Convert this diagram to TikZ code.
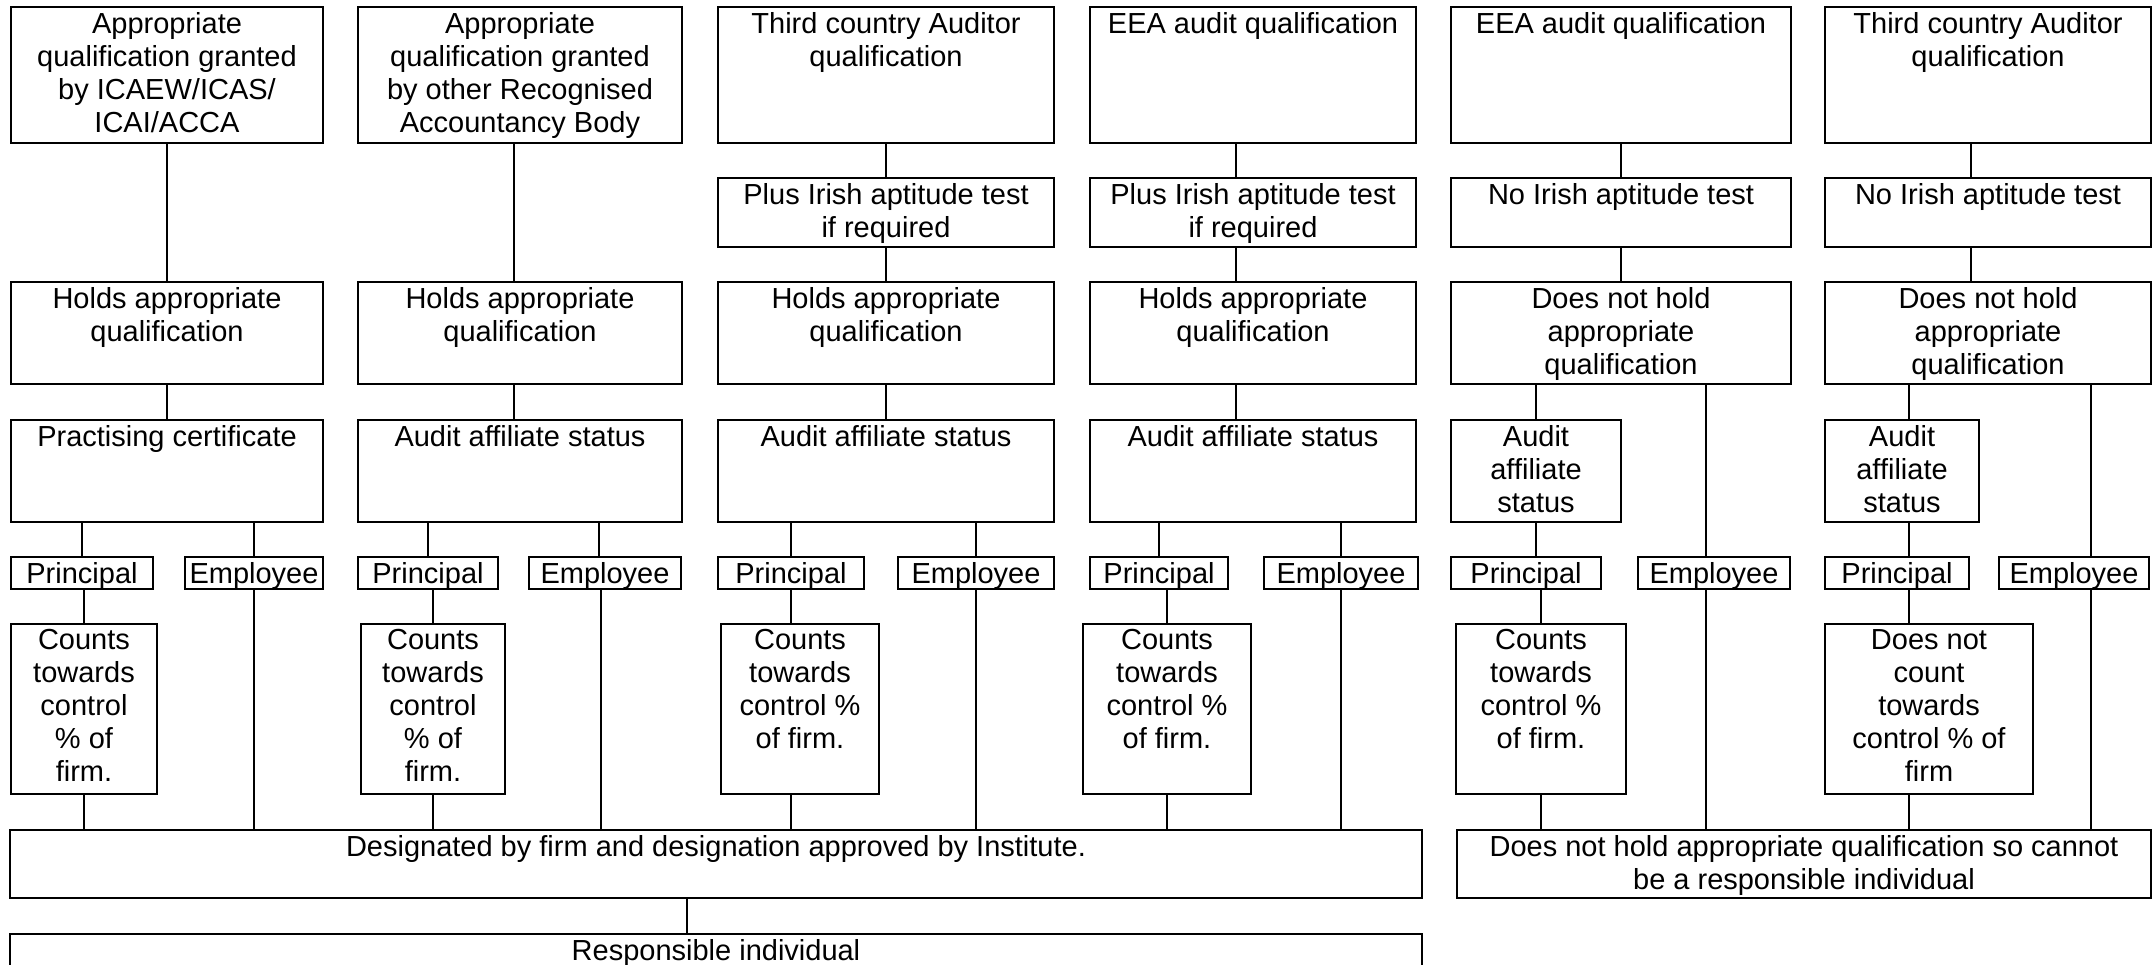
\documentclass[tikz,border=0pt]{standalone}
\usepackage{fontspec}
\setmainfont{Liberation Sans}
\usepackage{tikz}
\newlength{\boxline}
\setlength{\boxline}{2pt}
\tikzset{box/.style = {shape=rectangle,draw,line width=\boxline,anchor=north west,inner sep=0pt}}
\tikzset{txt/.style = {anchor=north,align=center,inner xsep=0pt,inner ysep=6pt,font=\fontsize{29}{33}\selectfont}}
\tikzset{edge/.style = {line width=\boxline}}

\begin{document}
\begin{tikzpicture}[x=1pt,y=-1pt]
        \useasboundingbox (0,0) rectangle (2152,965);
        \node[box,minimum width=312,minimum height=136,label={[txt]north:{Appropriate\\qualification granted\\by ICAEW/ICAS/\\ICAI/ACCA}}] (q1) at (10,6) {};
        \node[box,minimum width=324,minimum height=136,label={[txt]north:{Appropriate\\qualification granted\\by other Recognised\\Accountancy Body}}] (q2) at (357,6) {};
        \node[box,minimum width=336,minimum height=136,label={[txt]north:{Third country Auditor\\qualification}}] (q3) at (717,6) {};
        \node[box,minimum width=326,minimum height=136,label={[txt]north:{EEA audit qualification}}] (q4) at (1089,6) {};
        \node[box,minimum width=340,minimum height=136,label={[txt]north:{EEA audit qualification}}] (q5) at (1450,6) {};
        \node[box,minimum width=326,minimum height=136,label={[txt]north:{Third country Auditor\\qualification}}] (q6) at (1824,6) {};
        \node[box,minimum width=336,minimum height=69,label={[txt]north:{Plus Irish aptitude test\\if required}}] (t3) at (717,177) {};
        \draw[edge] (q3) -- (t3);
        \node[box,minimum width=326,minimum height=69,label={[txt]north:{Plus Irish aptitude test\\if required}}] (t4) at (1089,177) {};
        \draw[edge] ([xshift=-17]q4.south) -- ([xshift=-17]t4.north);
        \node[box,minimum width=340,minimum height=69,label={[txt]north:{No Irish aptitude test}}] (t5) at (1450,177) {};
        \draw[edge] (q5) -- (t5);
        \node[box,minimum width=326,minimum height=69,label={[txt]north:{No Irish aptitude test}}] (t6) at (1824,177) {};
        \draw[edge] ([xshift=-17]q6.south) -- ([xshift=-17]t6.north);
        \node[box,minimum width=312,minimum height=102,label={[txt]north:{Holds appropriate\\qualification}}] (h1) at (10,281) {};
        \draw[edge] (q1) -- (h1);
        \node[box,minimum width=324,minimum height=102,label={[txt]north:{Holds appropriate\\qualification}}] (h2) at (357,281) {};
        \draw[edge] ([xshift=-6]q2.south) -- ([xshift=-6]h2.north);
        \node[box,minimum width=336,minimum height=102,label={[txt]north:{Holds appropriate\\qualification}}] (h3) at (717,281) {};
        \draw[edge] (t3) -- (h3);
        \node[box,minimum width=326,minimum height=102,label={[txt]north:{Holds appropriate\\qualification}}] (h4) at (1089,281) {};
        \draw[edge] ([xshift=-17]t4.south) -- ([xshift=-17]h4.north);
        \node[box,minimum width=340,minimum height=102,label={[txt]north:{Does not hold\\appropriate\\qualification}}] (h5) at (1450,281) {};
        \draw[edge] (t5) -- (h5);
        \node[box,minimum width=326,minimum height=102,label={[txt]north:{Does not hold\\appropriate\\qualification}}] (h6) at (1824,281) {};
        \draw[edge] ([xshift=-17]t6.south) -- ([xshift=-17]h6.north);
        \node[box,minimum width=312,minimum height=102,label={[txt]north:{Practising certificate}}] (s1) at (10,419) {};
        \draw[edge] (h1) -- (s1);
        \node[box,minimum width=324,minimum height=102,label={[txt]north:{Audit affiliate status}}] (s2) at (357,419) {};
        \draw[edge] ([xshift=-6]h2.south) -- ([xshift=-6]s2.north);
        \node[box,minimum width=336,minimum height=102,label={[txt]north:{Audit affiliate status}}] (s3) at (717,419) {};
        \draw[edge] (h3) -- (s3);
        \node[box,minimum width=326,minimum height=102,label={[txt]north:{Audit affiliate status}}] (s4) at (1089,419) {};
        \draw[edge] ([xshift=-17]h4.south) -- ([xshift=-17]s4.north);
        \node[box,minimum width=170,minimum height=102,label={[txt]north:{Audit\\affiliate\\status}}] (s5) at (1450,419) {};
        \draw[edge] (s5) -- (s5 |- h5.south);
        \node[box,minimum width=154,minimum height=102,label={[txt]north:{Audit\\affiliate\\status}}] (s6) at (1824,419) {};
        \draw[edge] ([xshift=7]s6.north) -- ([xshift=7]s6.north |- h6.south);
        \node[box,minimum width=142,minimum height=32,label={[txt]north:{Principal}}] (p1) at (10,556) {};
        \draw[edge] (p1) -- (p1 |- s1.south);
        \node[box,minimum width=138,minimum height=32,label={[txt]north:{Employee}}] (e1) at (184,556) {};
        \draw[edge] (e1) -- (e1 |- s1.south);
        \node[box,minimum width=140,minimum height=32,label={[txt]north:{Principal}}] (p2) at (357,556) {};
        \draw[edge] (p2) -- (p2 |- s2.south);
        \node[box,minimum width=152,minimum height=32,label={[txt]north:{Employee}}] (e2) at (528,556) {};
        \draw[edge] ([xshift=-6]e2.north) -- ([xshift=-6]e2.north |- s2.south);
        \node[box,minimum width=146,minimum height=32,label={[txt]north:{Principal}}] (p3) at (717,556) {};
        \draw[edge] (p3) -- (p3 |- s3.south);
        \node[box,minimum width=156,minimum height=32,label={[txt]north:{Employee}}] (e3) at (897,556) {};
        \draw[edge] (e3) -- (e3 |- s3.south);
        \node[box,minimum width=138,minimum height=32,label={[txt]north:{Principal}}] (p4) at (1089,556) {};
        \draw[edge] (p4) -- (p4 |- s4.south);
        \node[box,minimum width=154,minimum height=32,label={[txt]north:{Employee}}] (e4) at (1263,556) {};
        \draw[edge] (e4) -- (e4 |- s4.south);
        \node[box,minimum width=150,minimum height=32,label={[txt]north:{Principal}}] (p5) at (1450,556) {};
        \draw[edge] (s5) -- (s5 |- p5.north);
        \node[box,minimum width=152,minimum height=32,label={[txt]north:{Employee}}] (e5) at (1637,556) {};
        \draw[edge] ([xshift=-8]e5.north) -- ([xshift=-8]e5.north |- h5.south);
        \node[box,minimum width=144,minimum height=32,label={[txt]north:{Principal}}] (p6) at (1824,556) {};
        \draw[edge] ([xshift=7]s6.south) -- ([xshift=7]s6.south |- p6.north);
        \node[box,minimum width=150,minimum height=32,label={[txt]north:{Employee}}] (e6) at (1998,556) {};
        \draw[edge] ([xshift=17]e6.north) -- ([xshift=17]e6.north |- h6.south);
        \node[box,minimum width=146,minimum height=170,label={[txt]north:{Counts\\towards\\control\\\% of\\firm.}}] (c1) at (10,623) {};
        \draw[edge] (c1) -- (c1 |- p1.south);
        \node[box,minimum width=144,minimum height=170,label={[txt]north:{Counts\\towards\\control\\\% of\\firm.}}] (c2) at (360,623) {};
        \draw[edge] (c2) -- (c2 |- p2.south);
        \node[box,minimum width=158,minimum height=170,label={[txt]north:{Counts\\towards\\control \%\\of firm.}}] (c3) at (720,623) {};
        \draw[edge] (p3) -- (p3 |- c3.north);
        \node[box,minimum width=168,minimum height=170,label={[txt]north:{Counts\\towards\\control \%\\of firm.}}] (c4) at (1082,623) {};
        \draw[edge] (c4) -- (c4 |- p4.south);
        \node[box,minimum width=170,minimum height=170,label={[txt]north:{Counts\\towards\\control \%\\of firm.}}] (c5) at (1455,623) {};
        \draw[edge] (c5) -- (c5 |- p5.south);
        \node[box,minimum width=208,minimum height=170,label={[txt]north:{Does not\\count\\towards\\control \% of\\firm}}] (c6) at (1824,623) {};
        \draw[edge] ([xshift=12]p6.south) -- ([xshift=12]p6.south |- c6.north);
        \node[box,minimum width=1412,minimum height=68,label={[txt]north:{Designated by firm and designation approved by Institute.}}] (d) at (9,829) {};
        \draw[edge] (c1) -- (c1 |- d.north);
        \draw[edge] (e1) -- (e1 |- d.north);
        \draw[edge] (c2) -- (c2 |- d.north);
        \draw[edge] ([xshift=-4]e2.south) -- ([xshift=-4]e2.south |- d.north);
        \draw[edge] (c3.south -| p3) -- (d.north -| p3);
        \draw[edge] (e3) -- (e3 |- d.north);
        \draw[edge] (c4) -- (c4 |- d.north);
        \draw[edge] (e4) -- (e4 |- d.north);
        \node[box,minimum width=694,minimum height=68,label={[txt]north:{Does not hold appropriate qualification so cannot\\be a responsible individual}}] (n) at (1456,829) {};
        \draw[edge] (c5) -- (c5 |- n.north);
        \draw[edge] ([xshift=-8]e5.south) -- ([xshift=-8]e5.south |- n.north);
        \draw[edge] ([xshift=-20]c6.south) -- ([xshift=-20]c6.south |- n.north);
        \draw[edge] ([xshift=17]e6.south) -- ([xshift=17]e6.south |- n.north);
        \node[box,minimum width=1412,minimum height=60,label={[txt]north:{Responsible individual}}] (r) at (9,933) {};
        \draw[edge] ([xshift=-29]d.south) -- ([xshift=-29]r.north);
    \end{tikzpicture}
\end{document}
